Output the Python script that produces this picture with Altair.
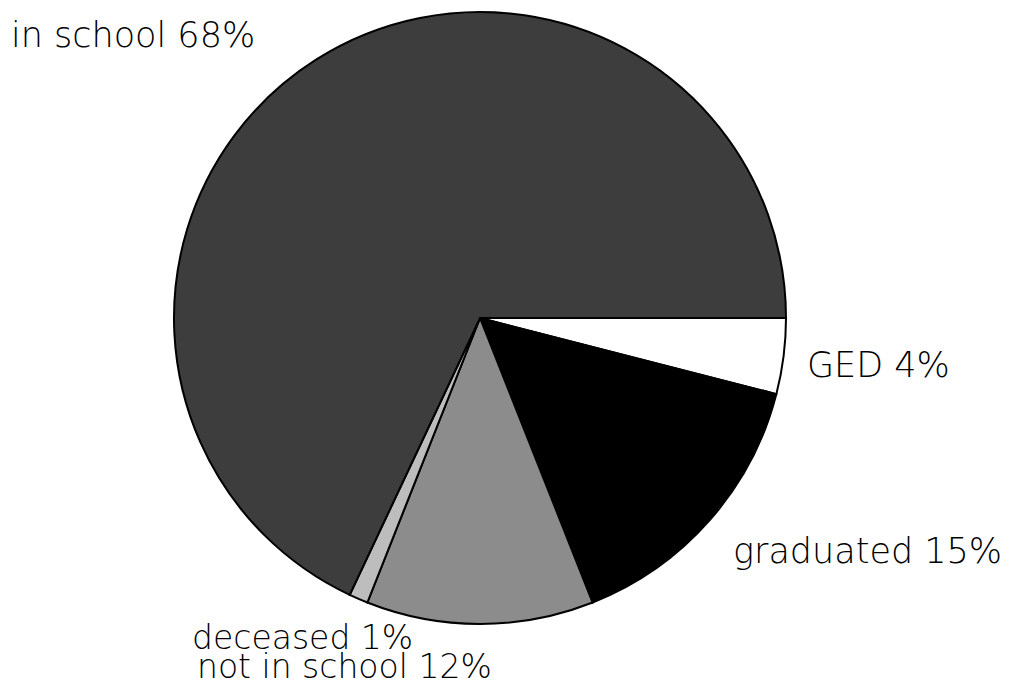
import math
import altair as alt
import pandas as pd

categories = ["GED", "graduated", "not in school", "deceased", "in school"]
values = [4, 15, 12, 1, 68]
labels = ["GED 4%", "graduated 15%", "not in school 12%", "deceased 1%", "in school 68%"]
colors = ["#ffffff", "#000000", "#8c8c8c", "#bdbdbd", "#3d3d3d"]

df = pd.DataFrame({"category": categories, "value": values, "order": list(range(len(categories)))})

W, H = 1001, 672
cx, cy, r = 472, 310, 306

pie = alt.Chart(df).mark_arc(stroke="black", strokeWidth=2, outerRadius=r).encode(
    theta=alt.Theta("value:Q", stack=True,
                    scale=alt.Scale(range=[math.pi / 2, math.pi / 2 + 2 * math.pi])),
    order=alt.Order("order:Q"),
    color=alt.Color("category:N", scale=alt.Scale(domain=categories, range=colors), legend=None),
    x=alt.value(cx),
    y=alt.value(cy),
)

label_df = pd.DataFrame({"label": labels})

def label(text, x, y, size=35):
    return alt.Chart(label_df).transform_filter(alt.datum.label == text).mark_text(
        align="left", baseline="alphabetic", font="DejaVu Sans", fontSize=size,
        fontWeight=300, color="black"
    ).encode(text="label:N", x=alt.value(x), y=alt.value(y))

layers = [
    pie,
    label("in school 68%", 3, 39),
    label("GED 4%", 799, 369),
    label("graduated 15%", 725, 555),
    label("deceased 1%", 184, 641, 33),
    label("not in school 12%", 189, 670, 33),
]

chart = alt.layer(*layers).properties(width=W, height=H, padding=0).configure_view(stroke=None)

chart.save("out.html", embed_options={"renderer": "svg", "actions": False})
